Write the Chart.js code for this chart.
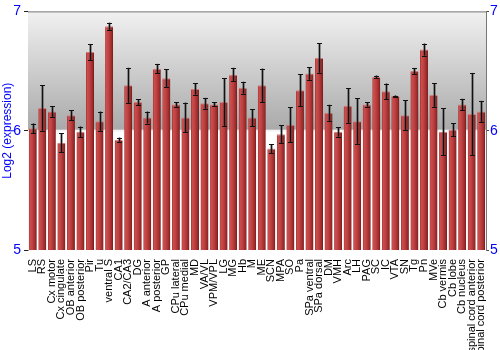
<!DOCTYPE html>
<html>
<head>
<meta charset="utf-8">
<script src="https://cdn.jsdelivr.net/npm/chart.js@4"></script>
<style>
  html, body { margin: 0; padding: 0; background: #fff; }
  #wrap { width: 500px; height: 350px; }
</style>
</head>
<body>
<div id="wrap"><canvas id="c" width="500" height="350"></canvas></div>
<script>
// ── data ─────────────────────────────────────────────
const regions = [
  "LS", "RS", "Cx motor", "Cx cingulate", "OB anterior", "OB posterior",
  "Pir", "Tu", "ventral S", "CA1", "CA2/CA3", "DG", "A anterior", "A posterior",
  "GP", "CPu lateral", "CPu medial", "MD", "VA/VL", "VPM/VPL", "LG", "MG",
  "Hb", "M", "ME", "SCN", "MPA", "SO", "Pa", "SPa ventral", "SPa dorsal",
  "DM", "VMH", "Arc", "LH", "PAG", "SC", "IC", "VTA", "SN", "Tg", "Pn",
  "MVe", "Cb vermis", "Cb lobe", "Cb nucleus", "spinal cord anterior",
  "spinal cord posterior",
];

const expression = [
  6.02, 6.19, 6.16, 5.90, 6.13, 5.99, 6.66, 6.08, 6.875, 5.925, 6.38, 6.24,
  6.11, 6.52, 6.44, 6.22, 6.11, 6.35, 6.23, 6.22, 6.24, 6.47, 6.36, 6.11,
  6.38, 5.85, 5.97, 6.05, 6.34, 6.48, 6.61, 6.15, 5.99, 6.21, 6.08, 6.22,
  6.45, 6.33, 6.29, 6.13, 6.50, 6.68, 6.30, 5.99, 6.01, 6.22, 6.14, 6.16,
];

const errors = [
  0.04, 0.19, 0.045, 0.08, 0.04, 0.045, 0.067, 0.08, 0.03, 0.017, 0.147, 0.025,
  0.05, 0.04, 0.075, 0.02, 0.125, 0.047, 0.045, 0.017, 0.2, 0.057, 0.05, 0.072,
  0.14, 0.036, 0.077, 0.146, 0.133, 0.053, 0.124, 0.067, 0.04, 0.144, 0.19, 0.018,
  0.012, 0.065, 0.005, 0.126, 0.026, 0.05, 0.1, 0.197, 0.054, 0.047, 0.344, 0.09,
];

const yMin = 5;
const yMax = 7;
const midLine = 6;

const FONT = "'Liberation Sans', Arial, sans-serif";
const BLUE = "#0000ff";

// ── bar fill: horizontal red shading per bar ──────────
function barFill(ctx) {
  const chart = ctx.chart;
  const xs = chart.scales.x;
  if (!chart.chartArea || !xs) return "#b83a3a";
  const meta = chart.getDatasetMeta(0);
  const bar = meta.data[ctx.dataIndex];
  const half = 4;
  const cx = bar && isFinite(bar.x) ? bar.x : xs.getPixelForValue(ctx.dataIndex);
  const g = chart.ctx.createLinearGradient(cx - half, 0, cx + half, 0);
  g.addColorStop(0, "#a02c2c");
  g.addColorStop(0.15, "#cc4e4e");
  g.addColorStop(0.45, "#bf4242");
  g.addColorStop(0.85, "#992828");
  g.addColorStop(1, "#6c1818");
  return g;
}

// ── background: gray gradient above 6, white line ─────
const backdrop = {
  id: "backdrop",
  beforeDatasetsDraw(chart) {
    const { ctx, chartArea: a, scales: { y } } = chart;
    const y6 = y.getPixelForValue(midLine);
    ctx.save();
    const g = ctx.createLinearGradient(0, a.top, 0, y6);
    g.addColorStop(0, "#f1f1f1");
    g.addColorStop(1, "#a9a9a9");
    ctx.fillStyle = g;
    ctx.fillRect(a.left, a.top, a.right - a.left, y6 - a.top);
    ctx.fillStyle = "#ffffff";
    ctx.fillRect(a.left, y6, a.right - a.left, a.bottom - y6);
    ctx.fillStyle = "#f4f4f4";
    ctx.fillRect(a.left, y6 - 1, a.right - a.left, 2);
    ctx.restore();
  },
  afterDatasetsDraw(chart) {
    const { ctx, chartArea: a } = chart;
    ctx.save();
    ctx.strokeStyle = "#777";
    ctx.lineWidth = 1;
    ctx.beginPath();
    ctx.moveTo(a.left, a.top + 0.5);
    ctx.lineTo(a.right, a.top + 0.5);
    ctx.stroke();
    ctx.restore();
  },
};

// ── error bars ───────────────────────────────────────
const errorBars = {
  id: "errorBars",
  afterDatasetsDraw(chart) {
    const { ctx, scales: { y } } = chart;
    const meta = chart.getDatasetMeta(0);
    ctx.save();
    meta.data.forEach((bar, i) => {
      const v = expression[i], e = errors[i];
      const x = Math.round(bar.x) + 0.5;
      const hi = y.getPixelForValue(v + e);
      const lo = y.getPixelForValue(v - e);
      // soft shadow
      ctx.strokeStyle = "rgba(60,60,60,0.45)";
      ctx.lineWidth = 3;
      ctx.beginPath();
      ctx.moveTo(x, hi); ctx.lineTo(x, lo);
      ctx.stroke();
      // line + caps
      ctx.strokeStyle = "#111";
      ctx.lineWidth = 1;
      ctx.beginPath();
      ctx.moveTo(x, hi); ctx.lineTo(x, lo);
      ctx.moveTo(x - 2.5, Math.round(hi) + 0.5); ctx.lineTo(x + 2.5, Math.round(hi) + 0.5);
      ctx.moveTo(x - 2.5, Math.round(lo) + 0.5); ctx.lineTo(x + 2.5, Math.round(lo) + 0.5);
      ctx.stroke();
    });
    ctx.restore();
  },
};

new Chart(document.getElementById("c"), {
  type: "bar",
  data: {
    labels: regions,
    datasets: [{
      data: expression,
      backgroundColor: barFill,
      borderColor: "#d77a7a",
      borderWidth: { top: 1, left: 0, right: 0, bottom: 0 },
      borderSkipped: "start",
      barPercentage: 0.84,
      categoryPercentage: 1,
    }],
  },
  options: {
    responsive: false,
    animation: false,
    layout: { padding: { top: 10, bottom: 0, left: 0, right: 0 } },
    plugins: { legend: { display: false }, tooltip: { enabled: false } },
    scales: {
      x: {
        grid: { display: false },
        border: { display: false },
        ticks: {
          autoSkip: false, minRotation: 90, maxRotation: 90, padding: 1,
          color: "#000", font: { family: FONT, size: 11 },
        },
        afterFit(s) { s.height = 100; },
      },
      y: {
        position: "left",
        min: yMin, max: yMax,
        ticks: { stepSize: 1, color: BLUE, padding: 3, font: { family: FONT, size: 14 } },
        grid: { drawOnChartArea: false, tickLength: 4, color: "#222" },
        border: { color: "#999" },
        title: {
          display: true, text: "Log2 (expression)", color: BLUE,
          font: { family: FONT, size: 12 }, padding: 0,
        },
        afterFit(s) { s.width = 28; },
      },
      y2: {
        position: "right",
        min: yMin, max: yMax,
        ticks: { stepSize: 1, color: BLUE, padding: 1, font: { family: FONT, size: 14 } },
        grid: { drawOnChartArea: false, tickLength: 3, color: "#444" },
        border: { color: "#777" },
        afterFit(s) { s.width = 14; },
      },
    },
  },
  plugins: [backdrop, errorBars],
});
</script>
</body>
</html>
